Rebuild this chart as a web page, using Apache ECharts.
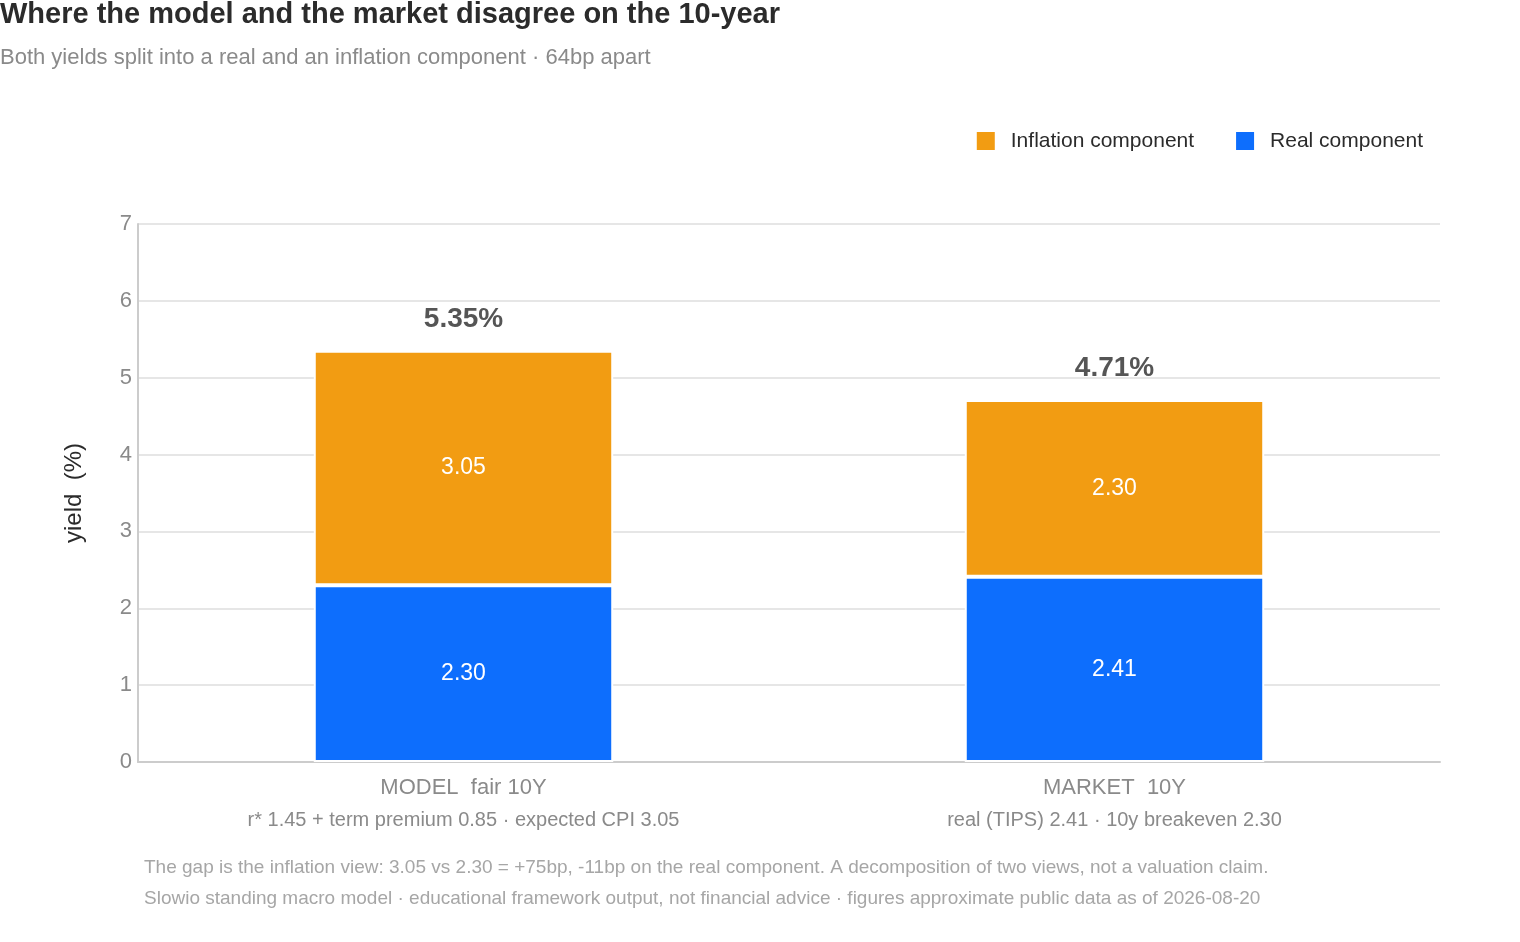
<!DOCTYPE html>
<html>
<head>
<meta charset="utf-8">
<script src="https://cdn.jsdelivr.net/npm/echarts@6/dist/echarts.min.js"></script>
<style>html,body{margin:0;padding:0;background:#fff}#c{width:1520px;height:942px}</style>
</head>
<body>
<div id="c"></div>
<script>
var categories = ['MODEL  fair 10Y', 'MARKET  10Y'];
var subLabels = ['r* 1.45 + term premium 0.85 · expected CPI 3.05', 'real (TIPS) 2.41 · 10y breakeven 2.30'];
var realData = [2.30, 2.41];
var inflationData = [3.05, 2.30];
var totalData = [5.35, 4.71];
var yTicks = [0, 1, 2, 3, 4, 5, 6, 7];

var chart = echarts.init(document.getElementById('c'));
var font = 'Liberation Sans, Arial, sans-serif';

option = {
  textStyle: { fontFamily: font },
  animation: false,
  title: [{
    text: 'Where the model and the market disagree on the 10-year',
    subtext: 'Both yields split into a real and an inflation component · 64bp apart',
    left: 0, top: 0, padding: [0, 0, 0, 0], itemGap: 18,
    textStyle: { fontSize: 29, fontWeight: 'bold', color: '#2b2b2b', fontFamily: font },
    subtextStyle: { fontSize: 22, color: '#8a8a8a', fontFamily: font }
  }],
  legend: {
    data: ['Inflation component', 'Real component'],
    right: 92, top: 125, itemWidth: 20, itemHeight: 20, itemGap: 40,
    icon: 'rect',
    textStyle: { fontSize: 21, color: '#2b2b2b', padding: [0, 0, 0, 10] }
  },
  graphic: [
    { type: 'text', left: 144, top: 858, style: { text: 'The gap is the inflation view: 3.05 vs 2.30 = +75bp, -11bp on the real component. A decomposition of two views, not a valuation claim.', fontSize: 19, fill: '#a6a6a6', fontFamily: font } },
    { type: 'text', left: 144, top: 889, style: { text: 'Slowio standing macro model · educational framework output, not financial advice · figures approximate public data as of 2026-08-20', fontSize: 19, fill: '#a6a6a6', fontFamily: font } }
  ],
  grid: { left: 138, right: 80, top: 224, bottom: 180 },
  xAxis: {
    type: 'category',
    data: categories,
    axisTick: { show: false },
    axisLine: { lineStyle: { color: '#cccccc', width: 2 } },
    axisLabel: {
      margin: 10,
      formatter: function (v, i) { return '{a|' + v + '}\n{b|' + subLabels[i] + '}'; },
      rich: {
        a: { fontSize: 22, color: '#8a8a8a', lineHeight: 32, fontFamily: font },
        b: { fontSize: 20, color: '#8a8a8a', lineHeight: 32, fontFamily: font }
      }
    }
  },
  yAxis: {
    type: 'value', min: yTicks[0], max: yTicks[yTicks.length - 1], interval: 1,
    name: 'yield  (%)', nameLocation: 'middle', nameGap: 52, nameRotate: 90,
    nameTextStyle: { fontSize: 24, color: '#2b2b2b' },
    axisLine: { show: true, lineStyle: { color: '#cccccc', width: 2 } },
    axisLabel: { fontSize: 22, color: '#8a8a8a', margin: 6 },
    splitLine: { lineStyle: { color: '#e6e6e6', width: 2 } }
  },
  series: [
    {
      name: 'Real component', type: 'bar', stack: 'y', barWidth: '46%',
      data: realData,
      itemStyle: { color: '#0d6efd', borderColor: '#fff', borderWidth: 2 },
      label: { show: true, position: 'inside', color: '#fff', fontSize: 23, formatter: function (p) { return p.value.toFixed(2); } }
    },
    {
      name: 'Inflation component', type: 'bar', stack: 'y',
      data: inflationData,
      itemStyle: { color: '#f29c12', borderColor: '#fff', borderWidth: 2 },
      label: { show: true, position: 'inside', color: '#fff', fontSize: 23, formatter: function (p) { return p.value.toFixed(2); } }
    },
    {
      name: 'total', type: 'scatter', symbolSize: 0, data: totalData, silent: true,
      label: { show: true, position: 'top', distance: 18, color: '#2b2b2b', fontSize: 28, fontWeight: 'bold', formatter: function (p) { return p.value.toFixed(2) + '%'; } }
    }
  ]
};
chart.setOption(option);
</script>
</body>
</html>
